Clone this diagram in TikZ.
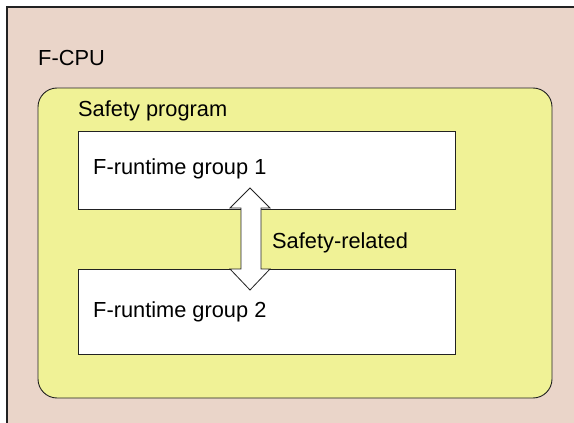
\documentclass[tikz,border=0pt]{standalone}
\usepackage{fontspec}
\setmainfont{Liberation Sans}
\definecolor{cpufill}{HTML}{EAD5C9}
\definecolor{progfill}{HTML}{F0F296}
\definecolor{edge}{HTML}{222222}
\begin{document}
\begin{tikzpicture}[x=1pt,y=-1pt,
  lbl/.style={anchor=base west,inner sep=0pt,font=\fontsize{21.8}{26}\selectfont},
  groupbox/.style={draw=edge,line width=0.8pt,fill=white},
]
\useasboundingbox (0,0) rectangle (574,423);
\begin{scope}
\clip (0,0) rectangle (574,423);
% F-CPU area
\draw[draw=edge,line width=1.1pt,fill=cpufill] (7,7) rectangle (590,440);
\end{scope}
% safety program area
\draw[draw=edge,line width=0.9pt,fill=progfill,rounded corners=19pt] (38,88) rectangle (552,398);
% runtime groups
\draw[groupbox] (78,131) rectangle (455,209);
\draw[groupbox] (78,269) rectangle (455,354);
% safety-related communication
\draw[draw=edge,line width=0.8pt,fill=white,line join=miter]
  (250,188) -- (270,208) -- (261,208) -- (261,269) -- (270,269) -- (250,290)
  -- (230,269) -- (241,269) -- (241,208) -- (230,208) -- cycle;
% labels
\node[lbl] (cpu) at (38,65) {F-CPU};
\node[lbl] (prog) at (78,116) {Safety program};
\node[lbl] (g1) at (93,174) {F-runtime group 1};
\node[lbl] (g2) at (93,317) {F-runtime group 2};
\node[lbl] (rel) at (272,248) {Safety-related};
\end{tikzpicture}
\end{document}
